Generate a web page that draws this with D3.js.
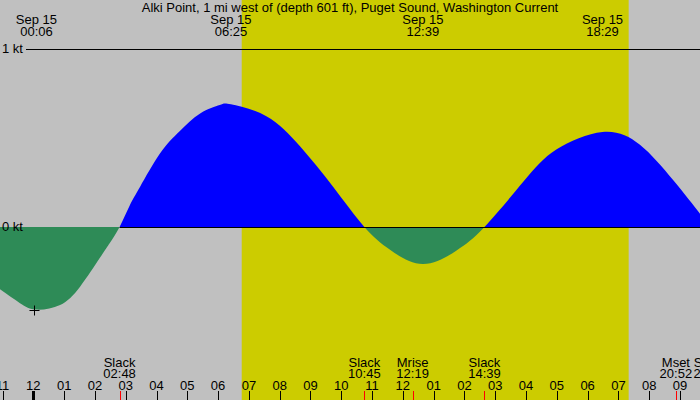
<!DOCTYPE html>
<html>
<head>
<meta charset="utf-8">
<script src="https://cdn.jsdelivr.net/npm/d3@7"></script>
<style>
  body { margin: 0; background: #fff; }
  svg { display: block; }
  text { font-family: "Liberation Sans", Arial, sans-serif; font-size: 13px; fill: #000; }
</style>
</head>
<body>
<div id="chart"></div>
<script>
const title = 'Alki Point, 1 mi west of (depth 601 ft), Puget Sound, Washington Current'
const dateLabel = 'Sep 15'
const viewStart = '14 22:55'
const viewEnd = '15 21:39'
const sunTimes = ['15 06:46', '15 19:20']                   // sunrise, sunset
const peakTimes = ['15 00:06', '15 06:25', '15 12:39', '15 18:29']
const eventNames = ['Slack', 'Slack', 'Mrise', 'Slack', 'Mset', 'Slack']
const eventTimes = ['15 02:48', '15 10:45', '15 12:19', '15 14:39', '15 20:52', '15 21:58']
const markerTime = '15 00:02'
const markerKnots = -0.464
const knotTicks = [0, 1]

// current speed (kt, + = flood)
const curveTimes = ['14 22:55', '14 23:34', '15 00:06', '15 00:52', '15 01:31', '15 02:10', '15 02:29', '15 02:48',
  '15 03:08', '15 03:28', '15 04:07', '15 04:45', '15 05:25', '15 06:03', '15 06:25', '15 07:34', '15 08:40', '15 09:44', '15 10:45',
  '15 11:35', '15 12:39', '15 13:44', '15 14:39', '15 15:55', '15 16:59', '15 18:29', '15 19:42',
  '15 20:47', '15 21:39', '15 21:58']
const curveKnots = [-0.35, -0.428, -0.464, -0.438, -0.335, -0.172, -0.09, 0,
  0.122, 0.226, 0.414, 0.538, 0.638, 0.685, 0.69, 0.622, 0.452, 0.226, 0,
  -0.128, -0.208, -0.133, 0, 0.255, 0.435, 0.534, 0.462,
  0.262, 0.075, 0]

const w = 700, h = 400
const parse = s => d3.timeParse('%Y-%m-%d %H:%M')('2023-09-' + s)

const x = d3.scaleTime().domain([parse(viewStart), parse(viewEnd)]).range([0, w])
const y = d3.scaleLinear().domain([0, 1]).range([227, 49])

const svg = d3.select('#chart').append('svg').attr('width', w).attr('height', h)

// night / day background
svg.append('rect').attr('width', w).attr('height', h).attr('fill', '#c0c0c0')
svg.append('rect')
    .attr('x', x(parse(sunTimes[0])))
    .attr('width', x(parse(sunTimes[1])) - x(parse(sunTimes[0])))
    .attr('height', h)
    .attr('fill', '#cccc00')

const data = curveTimes.map((t, i) => ({ t: parse(t), v: curveKnots[i] }))

const area = d3.area()
    .x(d => x(d.t))
    .y0(y(0))
    .y1(d => y(d.v))
    .curve(d3.curveNatural)

const defs = svg.append('defs')
defs.append('clipPath').attr('id', 'flood')
    .append('rect').attr('width', w).attr('height', y(0))
defs.append('clipPath').attr('id', 'ebb')
    .append('rect').attr('y', y(0)).attr('width', w).attr('height', h - y(0))

svg.append('path').datum(data).attr('d', area).attr('fill', '#0000ff').attr('clip-path', 'url(#flood)')
svg.append('path').datum(data).attr('d', area).attr('fill', '#2e8b57').attr('clip-path', 'url(#ebb)')

// knot lines
svg.append('line')
    .attr('x1', 26).attr('x2', w)
    .attr('y1', y(1) + 0.5).attr('y2', y(1) + 0.5)
    .attr('stroke', '#000')
svg.append('line')
    .attr('x1', x(parse(eventTimes[0]))).attr('x2', w)
    .attr('y1', y(0) + 0.5).attr('y2', y(0) + 0.5)
    .attr('stroke', '#000')

svg.selectAll('.kt').data(knotTicks).enter()
    .append('text')
    .attr('x', 2)
    .attr('y', d => y(d) + 4)
    .text(d => d + ' kt')

// title and max-current labels
svg.append('text').attr('x', 350).attr('y', 12).attr('text-anchor', 'middle').text(title)

const peaks = svg.selectAll('.peak').data(peakTimes).enter()
    .append('g')
    .attr('transform', d => `translate(${x(parse(d))},0)`)
peaks.append('text').attr('y', 24).attr('text-anchor', 'middle').text(dateLabel)
peaks.append('text').attr('y', 36).attr('text-anchor', 'middle').text(d => d.slice(3))

// marker at the ebb maximum
svg.append('path')
    .attr('d', 'M-5,0H5M0,-5V5')
    .attr('stroke', '#000')
    .attr('transform', `translate(${Math.round(x(parse(markerTime))) + 0.5},${Math.round(y(markerKnots)) + 0.5})`)

// hour axis
const hours = x.ticks(d3.timeHour.every(1))
svg.selectAll('.htick').data(hours).enter()
    .append('line')
    .attr('x1', d => Math.round(x(d)) + 0.5).attr('x2', d => Math.round(x(d)) + 0.5)
    .attr('y1', 391).attr('y2', h)
    .attr('stroke', '#000')
    .attr('stroke-width', d => d.getHours() === 0 ? 3 : 1)
svg.selectAll('.hlab').data(hours).enter()
    .append('text')
    .attr('x', d => x(d))
    .attr('y', 390)
    .attr('text-anchor', 'middle')
    .text(d3.timeFormat('%I'))

// slack / moon events
svg.selectAll('.etick').data(eventTimes).enter()
    .append('line')
    .attr('x1', d => Math.round(x(parse(d))) + 0.5).attr('x2', d => Math.round(x(parse(d))) + 0.5)
    .attr('y1', 391).attr('y2', h)
    .attr('stroke', '#ff0000')
const ev = svg.selectAll('.ev').data(eventTimes).enter()
    .append('g')
    .attr('transform', d => `translate(${x(parse(d))},0)`)
ev.append('text').attr('y', 367).attr('text-anchor', 'middle').text((d, i) => eventNames[i])
ev.append('text').attr('y', 378).attr('text-anchor', 'middle').text(d => d.slice(3))
</script>
</body>
</html>
